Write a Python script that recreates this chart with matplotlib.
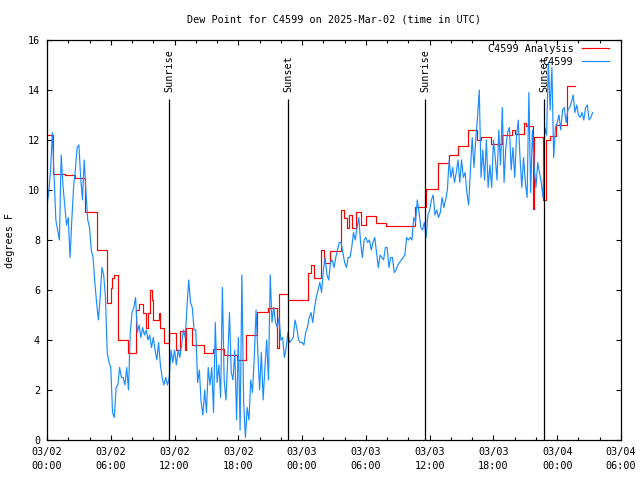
import numpy as np
import pandas as pd
import matplotlib
matplotlib.use('Agg')
import matplotlib.pyplot as plt

# day start, everything is in hours from here
start = pd.Timestamp('2025-03-02 00:00')

# C4599 observations, one value every 10 minutes (degrees F)
obs_vals = [
    9.4, 9.9, 10.8, 12.3, 10.5, 8.8,
    8.4, 8.0, 11.4, 10.2, 9.4, 8.6,
    8.9, 7.3, 8.8, 10.1, 10.8, 11.7,
    11.8, 10.5, 9.6, 11.2, 9.9, 8.8,
    8.5, 7.6, 7.3, 6.3, 5.5, 4.8,
    5.7, 6.9, 6.6, 5.7, 3.5, 3.1,
    2.9, 1.1, 0.9, 2.1, 2.2, 2.9,
    2.5, 2.5, 2.2, 2.9, 2.0, 4.3,
    5.1, 5.3, 5.7, 4.3, 4.6, 4.1,
    4.5, 4.2, 4.4, 4.0, 4.2, 3.7,
    4.1, 3.6, 3.2, 3.9, 3.0, 2.5,
    2.2, 2.5, 2.2, 2.5, 3.6, 3.1,
    3.6, 3.0, 3.6, 3.3, 3.8, 4.4,
    4.1, 5.3, 6.4, 5.5, 5.3, 4.4,
    4.4, 2.3, 2.8, 1.5, 1.0, 2.0,
    1.1, 2.9, 2.2, 2.9, 1.1, 4.7,
    2.3, 3.0, 1.7, 6.1, 2.4, 1.6,
    3.2, 5.1, 2.7, 2.4, 3.6, 0.8,
    4.1, 0.4, 6.6, 1.5, 0.1, 1.3,
    0.8, 2.4, 1.9, 3.3, 5.2, 3.5,
    2.0, 3.5, 1.6, 2.9, 4.0, 2.4,
    6.6, 4.7, 5.3, 4.7, 4.5, 4.9,
    4.0, 4.1, 3.3, 3.7, 4.3, 3.9,
    4.0, 4.1, 4.8, 4.5, 4.0, 3.9,
    3.9, 3.8, 4.3, 4.5, 4.9, 5.1,
    4.7, 5.3, 5.7, 6.0, 6.3, 5.9,
    6.8, 7.3, 6.6, 6.4, 7.1, 7.2,
    6.9, 7.3, 7.6, 7.9, 7.9, 7.5,
    7.1, 6.9, 7.3, 7.3, 7.7, 8.3,
    8.0, 8.5, 8.9, 7.9, 7.3, 8.0,
    8.1, 7.9, 8.0, 7.6, 7.9, 8.1,
    7.5, 6.9, 7.4, 7.3, 7.2, 7.7,
    7.7, 6.9, 7.3, 7.3, 6.7, 6.8,
    7.0, 7.1, 7.2, 7.3, 7.4, 8.1,
    8.0, 8.1, 8.0, 8.9, 8.7, 9.6,
    9.1, 8.5, 8.4, 8.7, 8.1, 9.0,
    9.2, 9.6, 9.8, 9.0, 9.2, 8.9,
    9.1, 9.7, 9.3, 9.6, 10.0, 11.2,
    10.5, 10.9, 10.3, 10.7, 11.2, 10.3,
    11.2, 10.5, 10.7, 9.9, 9.4, 10.8,
    12.1, 10.9, 12.0, 12.9, 14.0, 10.5,
    11.6, 10.4, 12.0, 10.1, 11.0, 10.1,
    12.0, 11.3, 10.4, 12.4, 11.0, 13.3,
    10.3, 11.7, 12.3, 12.5, 10.8, 11.7,
    10.5, 12.1, 12.8, 11.3, 10.1, 11.3,
    10.3, 9.7, 13.9, 9.9, 12.4, 10.9,
    10.1, 11.1, 10.7, 10.3, 9.7, 12.5,
    12.2, 15.1, 13.2, 14.9, 11.3, 12.5,
    12.7, 13.0, 12.4, 13.2, 13.3, 12.7,
    13.2, 13.3, 13.5, 13.8, 13.1, 13.4,
    13.0, 12.9, 13.1, 12.8, 13.3, 13.4,
    12.8, 12.9, 13.1,
]
obs_step_min = 10

# C4599 analysis, value holds from each mark to the next
ana_hours = [0.0, 0.6, 1.7, 2.6, 3.6, 4.67, 5.6, 6.05, 6.15, 6.3, 6.65, 7.65,
             8.4, 8.65, 9.0, 9.3, 9.5, 9.7, 9.85, 10.0, 10.5, 10.65, 11.05, 11.45,
             12.1, 12.5, 12.95, 13.1, 13.6, 14.75, 15.6, 16.65, 17.9, 18.75, 19.75,
             20.8, 21.6, 21.8, 22.65, 24.55, 24.8, 25.15, 25.8, 26.05, 26.65,
             27.7, 27.9, 28.2, 28.45, 28.65, 29.1, 29.55, 30.0, 30.95, 31.9,
             34.6, 35.7, 36.75, 37.85, 38.7, 39.6, 40.5, 40.8, 41.75, 42.8,
             43.75, 44.0, 44.85, 45.05, 45.7, 45.85, 46.7, 46.9, 47.35, 47.9,
             48.95, 49.7]
ana_vals = [12.2, 10.64, 10.6, 10.47, 9.13, 7.6, 5.5, 6.1, 6.5, 6.6, 4.0, 3.47,
            5.2, 5.44, 5.1, 4.5, 5.1, 6.0, 5.6, 4.8, 5.1, 4.5, 3.9, 4.3,
            3.6, 4.36, 3.6, 4.5, 3.8, 3.47, 3.63, 3.4, 3.2, 4.2, 5.13,
            5.27, 3.7, 5.83, 5.6, 6.67, 7.0, 6.47, 7.6, 7.07, 7.57,
            9.2, 8.87, 8.47, 9.0, 8.47, 9.13, 8.6, 8.96, 8.67, 8.56,
            9.3, 10.03, 11.07, 11.4, 11.77, 12.4, 12.0, 12.1, 11.84, 12.19,
            12.4, 12.25, 12.67, 12.55, 9.24, 12.1, 9.6, 12.0, 12.15, 12.6,
            14.16, 14.16]

sun_names = ['Sunrise', 'Sunset', 'Sunrise', 'Sunset']
sun_hours = [11.48, 22.7, 35.59, 46.75]

tick_hours = [0, 6, 12, 18, 24, 30, 36, 42, 48, 54]
tick_labels = ['03/02\n00:00', '03/02\n06:00', '03/02\n12:00', '03/02\n18:00',
               '03/03\n00:00', '03/03\n06:00', '03/03\n12:00', '03/03\n18:00',
               '03/04\n00:00', '03/04\n06:00']

mono = 'DejaVu Sans Mono'
fs = 7.3
plt.rcParams['font.family'] = mono
plt.rcParams['font.size'] = fs

def to_time(hours):
    return start + pd.to_timedelta(np.asarray(hours, dtype=float), unit='h')

obs_times = start + pd.to_timedelta(np.arange(len(obs_vals)) * obs_step_min, unit='min')

fig = plt.figure(figsize=(6.4, 4.8), dpi=100)
ax = fig.add_axes([47 / 640, 40 / 480, 574 / 640, 400 / 480])

ax.plot(to_time(ana_hours), ana_vals, color='#ff0000', lw=0.85,
        drawstyle='steps-post', label='C4599 Analysis')
ax.plot(obs_times, obs_vals, color='#1a8cff', lw=0.85, label='C4599')

for name, h in zip(sun_names, sun_hours):
    t = to_time([h])[0]
    ax.vlines(t, 0, 13.64, color='black', lw=0.9)
    ax.text(t, 13.92, name, rotation=90, ha='center', va='bottom', fontsize=fs)

ax.set_xlim(to_time([0])[0], to_time([54])[0])
ax.set_ylim(0, 16)
ax.set_yticks(range(0, 17, 2))
ax.set_xticks(to_time(tick_hours), tick_labels, linespacing=1.5)
ax.set_xticks(to_time(range(0, 55, 2)), minor=True)

ax.tick_params(which='both', direction='in', top=True, right=True,
               width=0.8, labelsize=fs, pad=5)
ax.tick_params(which='major', length=3.6)
ax.tick_params(which='minor', length=2.0)
for sp in ax.spines.values():
    sp.set_linewidth(0.9)

# title is centred over the plot area, not the figure
ax.text(0.5, 1 + 20 / 400, 'Dew Point for C4599 on 2025-Mar-02 (time in UTC)',
        transform=ax.transAxes, ha='center', va='center', fontsize=fs)
fig.text(10 / 640, 0.5, 'degrees F', rotation=90, ha='center', va='center', fontsize=fs)

ax.legend(loc='upper right', bbox_to_anchor=(0.979, 0.99), frameon=False,
          markerfirst=False, borderpad=0, borderaxespad=0, handlelength=2.7,
          handletextpad=0.8, labelspacing=0.25, fontsize=fs)

fig.savefig('out.png', dpi=100)
